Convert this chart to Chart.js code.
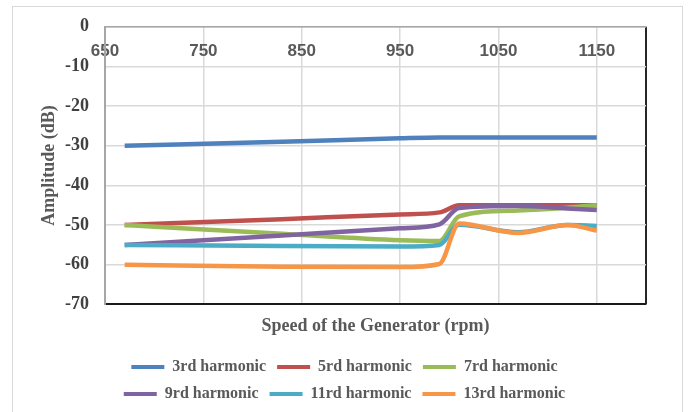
<!DOCTYPE html>
<html>
<head>
<meta charset="utf-8">
<script src="https://cdn.jsdelivr.net/npm/chart.js@4.4.1/dist/chart.umd.min.js"></script>
<style>
  html, body { margin: 0; padding: 0; background: #ffffff; }
  #wrap { position: relative; width: 689px; height: 412px; overflow: hidden; }
  #frame { position: absolute; left: 12px; top: 6px; width: 671px; height: 420px; border: 1px solid #d9d9d9; box-sizing: border-box; }
  canvas { position: absolute; left: 0; top: 0; }
</style>
</head>
<body>
<div id="wrap">
  <div id="frame"></div>
  <canvas id="c" width="689" height="412"></canvas>
</div>
<script>
// ---- data ----
const rpm = [670, 830, 950, 990, 1010, 1070, 1120, 1150];
const seriesNames = ['3rd harmonic', '5rd harmonic', '7rd harmonic', '9rd harmonic', '11rd harmonic', '13rd harmonic'];
const h3  = [-30, -29.0, -28.1, -27.9, -27.9, -27.9, -27.9, -27.9];
const h5  = [-50, -48.5, -47.3, -46.8, -45.0, -45.0, -45.0, -45.0];
const h7  = [-50, -52.2, -53.8, -54.0, -47.8, -46.3, -45.6, -45.0];
const h9  = [-55, -52.6, -50.8, -49.8, -45.7, -45.2, -45.8, -46.2];
const h11 = [-55, -55.3, -55.4, -55.0, -49.9, -51.8, -50.0, -50.2];
const h13 = [-60, -60.5, -60.6, -59.8, -49.6, -52.0, -50.0, -51.4];
const xTickValues = [650, 750, 850, 950, 1050, 1150, 1200];
const yMin = -70, yMax = 0, yStep = 10;
const xTitle = 'Speed of the Generator (rpm)';
const yTitle = 'Amplitude (dB)';

const colors = ['#4F81BD', '#C0504D', '#9BBB59', '#8064A2', '#4BACC6', '#F79646'];
const allSeries = [h3, h5, h7, h9, h11, h13];

const datasets = allSeries.map((vals, i) => ({
  label: seriesNames[i],
  data: vals.map((v, k) => ({ x: rpm[k], y: v })),
  borderColor: colors[i],
  backgroundColor: colors[i],
  borderWidth: 4.5,
  pointRadius: 0,
  pointHoverRadius: 0,
  fill: false,
  cubicInterpolationMode: 'monotone',
  order: allSeries.length - i
}));

const serif = "'Liberation Serif', 'Times New Roman', serif";

// wrap legend rows at three items, like the reference
const legendWrap = {
  id: 'legendWrap',
  beforeLayout(chart) {
    const lg = chart.legend;
    if (lg && !lg._wrapped) {
      const orig = lg.update;
      lg.update = function (mw, mh, m) { return orig.call(this, Math.min(mw, 520), mh, m); };
      lg._wrapped = true;
    }
  }
};

new Chart(document.getElementById('c'), {
  type: 'line',
  data: { datasets },
  plugins: [legendWrap],
  options: {
    responsive: false,
    animation: false,
    layout: { padding: { left: 0, right: 0, top: 26, bottom: 0 } },
    plugins: {
      tooltip: { enabled: false },
      title: {
        display: true,
        text: xTitle,
        position: 'bottom',
        fullSize: false,
        weight: 500,
        color: '#595959',
        font: { family: serif, size: 18, weight: 'bold', lineHeight: 1.2 },
        padding: { top: 11, bottom: 11 }
      },
      legend: {
        position: 'bottom',
        labels: {
          boxWidth: 33,
          boxHeight: 4,
          padding: 11,
          color: '#595959',
          font: { family: serif, size: 16, weight: 'bold' },
          sort: (a, b) => a.datasetIndex - b.datasetIndex,
          generateLabels: (chart) => {
            const items = Chart.defaults.plugins.legend.labels.generateLabels(chart);
            return items.map(it => Object.assign(it, { lineWidth: 0, strokeStyle: 'rgba(0,0,0,0)' }));
          }
        }
      }
    },
    scales: {
      x: {
        type: 'linear',
        position: { y: 0 },
        min: 650,
        max: 1200,
        afterBuildTicks: (scale) => { scale.ticks = xTickValues.map(v => ({ value: v })); },
        ticks: {
          padding: 14,
          color: '#595959',
          font: { family: "'Liberation Sans Narrow', 'Arial Narrow', 'Liberation Sans', sans-serif", size: 17, weight: 'bold' },
          callback: (v) => (v === 1200 ? '' : String(v)),
          maxRotation: 0,
          autoSkip: false
        },
        grid: {
          drawTicks: false,
          color: (ctx) => (ctx.tick && ctx.tick.value === 1200 ? '#262626' : '#d9d9d9'),
          lineWidth: (ctx) => (ctx.tick && ctx.tick.value === 1200 ? 2 : 1.5)
        },
        border: { display: true, color: '#a6a6a6', width: 1.5 },
        title: { display: false }
      },
      y: {
        type: 'linear',
        position: 'left',
        min: yMin,
        max: yMax,
        afterFit: (scale) => { scale.width = 105; },
        ticks: {
          stepSize: yStep,
          padding: 16,
          color: '#404040',
          font: { family: serif, size: 18, weight: 'bold' }
        },
        grid: {
          drawTicks: false,
          color: (ctx) => (ctx.tick && ctx.tick.value === yMin ? '#1a1a1a' : '#d9d9d9'),
          lineWidth: (ctx) => (ctx.tick && ctx.tick.value === yMin ? 2 : 1.5)
        },
        border: { display: true, color: '#a6a6a6', width: 2 },
        title: {
          display: true,
          text: yTitle,
          color: '#595959',
          font: { family: serif, size: 18, weight: 'bold', lineHeight: 1.2 },
          padding: { top: 39, bottom: 0 }
        }
      },
      yRight: {
        type: 'linear',
        position: 'right',
        display: true,
        min: yMin,
        max: yMax,
        afterFit: (scale) => { scale.width = 43; },
        ticks: { display: false },
        grid: { display: false, drawOnChartArea: false },
        border: { display: false }
      }
    }
  }
});
</script>
</body>
</html>
